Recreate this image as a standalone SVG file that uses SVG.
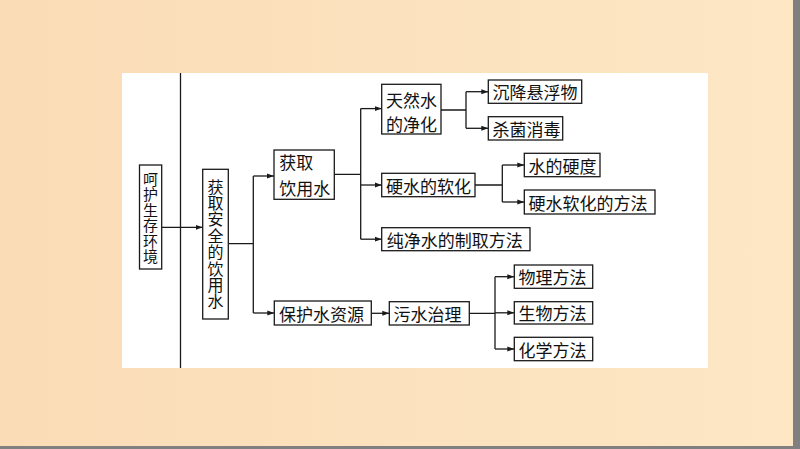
<svg xmlns="http://www.w3.org/2000/svg" width="800" height="449" viewBox="0 0 800 449">
  <defs>
    <linearGradient id="bg" x1="0" y1="0" x2="1" y2="0">
      <stop offset="0" stop-color="#FADCB6"/>
      <stop offset="1" stop-color="#FDE7C5"/>
    </linearGradient>
    <marker id="ah" markerUnits="userSpaceOnUse" markerWidth="8" markerHeight="6" refX="7" refY="3" orient="auto">
      <path d="M0,0.5 L7,3 L0,5.5 z" fill="#1a1a1a"/>
    </marker>
    <style>
      .box { fill: #ffffff; stroke: #1a1a1a; stroke-width: 1.3; }
      .t { font-family: "Noto Sans CJK SC", "Noto Sans", sans-serif; font-size: 17px; fill: #111; dominant-baseline: central; }
      .tv { font-family: "Noto Sans CJK SC", "Noto Sans", sans-serif; font-size: 16px; fill: #111; dominant-baseline: central; text-anchor: middle; }
      .tv1 { font-family: "Noto Sans CJK SC", "Noto Sans", sans-serif; font-size: 15px; fill: #111; dominant-baseline: central; text-anchor: middle; }
      .ln { fill: none; stroke: #1a1a1a; stroke-width: 1.3; }
      .ar { fill: none; stroke: #1a1a1a; stroke-width: 1.3; marker-end: url(#ah); }
    </style>
  </defs>

  <rect x="0" y="0" width="800" height="449" fill="url(#bg)"/>
  <rect x="793" y="0" width="7" height="449" fill="#808080"/>
  <rect x="0" y="446" width="800" height="3" fill="#808080"/>
  <rect x="122" y="73" width="586" height="295" fill="#ffffff"/>
  <line x1="180.5" y1="73" x2="180.5" y2="368" stroke="#1a1a1a" stroke-width="1.3"/>

  <g id="connectors">
    <path class="ar" d="M161.7,227.3 H202.7"/>
    <path class="ln" d="M228.3,243.7 H253.3 M253.3,176 V313"/>
    <path class="ar" d="M253.3,176 H274"/>
    <path class="ar" d="M253.3,313 H274.3"/>
    <path class="ln" d="M334.3,174.3 H360.7 M360.7,108.6 V239.2"/>
    <path class="ar" d="M360.7,108.6 H381.7"/>
    <path class="ar" d="M360.7,185 H381.7"/>
    <path class="ar" d="M360.7,239.2 H381.7"/>
    <path class="ln" d="M441,110 H466 M466,91.7 V128.3"/>
    <path class="ar" d="M466,91.7 H488.3"/>
    <path class="ar" d="M466,128.3 H488.3"/>
    <path class="ln" d="M475,185 H502.3 M502.3,165 V202"/>
    <path class="ar" d="M502.3,165 H524.3"/>
    <path class="ar" d="M502.3,202 H524.3"/>
    <path class="ar" d="M371.3,313.3 H389.3"/>
    <path class="ln" d="M469.3,313.3 H495 M495,276.7 V349"/>
    <path class="ar" d="M495,276.7 H514.3"/>
    <path class="ar" d="M495,312.8 H514.3"/>
    <path class="ar" d="M495,349 H514.3"/>
  </g>

  <g id="n1">
    <rect class="box" x="139.5" y="165" width="22.2" height="104"/>
    <text class="tv1" x="150.6" y="178">呵</text>
    <text class="tv1" x="150.6" y="193.5">护</text>
    <text class="tv1" x="150.6" y="209">生</text>
    <text class="tv1" x="150.6" y="224.5">存</text>
    <text class="tv1" x="150.6" y="240">环</text>
    <text class="tv1" x="150.6" y="255.5">境</text>
  </g>
  <g id="n2">
    <rect class="box" x="202.7" y="169.3" width="25.6" height="149.7"/>
    <text class="tv" x="215.5" y="185.5">获</text>
    <text class="tv" x="215.5" y="201.9">取</text>
    <text class="tv" x="215.5" y="218.3">安</text>
    <text class="tv" x="215.5" y="234.7">全</text>
    <text class="tv" x="215.5" y="251.1">的</text>
    <text class="tv" x="215.5" y="267.5">饮</text>
    <text class="tv" x="215.5" y="283.9">用</text>
    <text class="tv" x="215.5" y="300.3">水</text>
  </g>
  <g id="n3">
    <rect class="box" x="274" y="150" width="60.3" height="49.3"/>
    <text class="t" x="279.3" y="161.7">获取</text>
    <text class="t" x="279.3" y="187.3">饮用水</text>
  </g>
  <g id="n4">
    <rect class="box" x="274.3" y="301" width="97" height="24"/>
    <text class="t" x="279" y="313">保护水资源</text>
  </g>
  <g id="n5">
    <rect class="box" x="381.7" y="84.3" width="59.3" height="49.7"/>
    <text class="t" x="386" y="99.5">天然水</text>
    <text class="t" x="386" y="123">的净化</text>
  </g>
  <g id="n6">
    <rect class="box" x="381.7" y="173.3" width="93.3" height="23.4"/>
    <text class="t" x="386" y="185">硬水的软化</text>
  </g>
  <g id="n7">
    <rect class="box" x="381.7" y="227.7" width="148.3" height="23"/>
    <text class="t" x="386.7" y="239.2">纯净水的制取方法</text>
  </g>
  <g id="n8">
    <rect class="box" x="488.3" y="80" width="93.4" height="23.3"/>
    <text class="t" x="492.5" y="91.7">沉降悬浮物</text>
  </g>
  <g id="n9">
    <rect class="box" x="488.3" y="116.7" width="74.4" height="23.3"/>
    <text class="t" x="492.5" y="128.3">杀菌消毒</text>
  </g>
  <g id="n10">
    <rect class="box" x="524.3" y="153.3" width="75.7" height="23.4"/>
    <text class="t" x="528.5" y="165">水的硬度</text>
  </g>
  <g id="n11">
    <rect class="box" x="524.3" y="190" width="130.7" height="24"/>
    <text class="t" x="528.5" y="202">硬水软化的方法</text>
  </g>
  <g id="n12">
    <rect class="box" x="389.3" y="301.7" width="80" height="23.3"/>
    <text class="t" x="393.5" y="313.3">污水治理</text>
  </g>
  <g id="n13">
    <rect class="box" x="514.3" y="265" width="78.4" height="23.3"/>
    <text class="t" x="518.5" y="276.7">物理方法</text>
  </g>
  <g id="n14">
    <rect class="box" x="514.3" y="301.7" width="78.4" height="22.3"/>
    <text class="t" x="518.5" y="312.8">生物方法</text>
  </g>
  <g id="n15">
    <rect class="box" x="514.3" y="337.3" width="78.4" height="23.4"/>
    <text class="t" x="518.5" y="349">化学方法</text>
  </g>
</svg>
